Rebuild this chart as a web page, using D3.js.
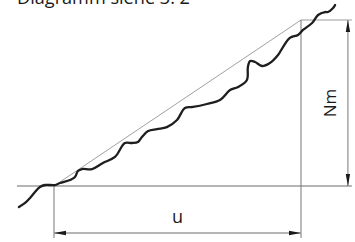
<!DOCTYPE html>
<html>
<head>
<meta charset="utf-8">
<script src="https://cdn.jsdelivr.net/npm/d3@7"></script>
<style>
html,body{margin:0;padding:0;background:#fff;}
svg{display:block;}
</style>
</head>
<body>
<svg id="c" width="355" height="242"></svg>
<script>
// Data (normalized units: u along horizontal, Nm along vertical)
const title = "Diagramm siehe 3. 2";
const labelU = "u";
const labelN = "Nm";
const curveU = [-0.142,-0.117,-0.097,-0.077,-0.057,-0.036,0.004,0.024,0.065,0.085,0.097,0.113,0.154,0.198,0.247,0.287,0.316,0.340,0.356,0.381,0.417,0.457,0.498,0.530,0.563,0.619,0.672,0.713,0.745,0.781,0.785,0.794,0.814,0.842,0.874,0.907,0.927,0.955,0.988,1.008,1.045,1.069,1.097,1.109,1.130,1.138];
const curveN = [-0.127,-0.102,-0.072,-0.036,-0.006,0.006,0.006,0.018,0.036,0.054,0.090,0.102,0.102,0.139,0.175,0.259,0.259,0.265,0.295,0.331,0.343,0.355,0.398,0.470,0.476,0.494,0.518,0.578,0.596,0.639,0.717,0.753,0.747,0.723,0.741,0.789,0.837,0.892,0.910,0.940,0.982,1.030,1.048,1.048,1.072,1.090];
const uExtent = [0, 1];   // u dimension
const nExtent = [0, 1];   // Nm dimension

const svg = d3.select("#c");
const x = d3.scaleLinear().domain([0,1]).range([54,301]);
const y = d3.scaleLinear().domain([0,1]).range([186,20]);

const gray = "#9c9c9c";
const line = d3.line().x(d=>x(d[0])).y(d=>y(d[1]));

// markers
const defs = svg.append("defs");
defs.append("marker").attr("id","ah").attr("viewBox","0 0 12 6")
  .attr("refX",12).attr("refY",3).attr("markerWidth",12).attr("markerHeight",6)
  .attr("markerUnits","userSpaceOnUse").attr("orient","auto-start-reverse")
  .append("path").attr("d","M0,0.8 L12,3 L0,5.2 Z").attr("fill","#1a1a1a");

// baseline
svg.append("path").attr("d",line([[-0.15,0],[1.206,0]])).attr("stroke",gray).attr("stroke-width",1.5).attr("fill","none");
// top line
svg.append("path").attr("d",line([[1,1],[1.206,1]])).attr("stroke",gray).attr("stroke-width",1.2).attr("fill","none");
// vertical extension lines
svg.append("path").attr("d",line([[0,0],[0,-0.313]])).attr("stroke","#777").attr("stroke-width",1).attr("fill","none");
svg.append("path").attr("d",line([[1,1],[1,-0.313]])).attr("stroke","#777").attr("stroke-width",1).attr("fill","none");
// diagonal
svg.append("path").attr("d",line([[uExtent[0],nExtent[0]],[uExtent[1],nExtent[1]]])).attr("stroke","#777").attr("stroke-width",0.7).attr("fill","none");

// u dimension
svg.append("path").attr("d",line([[uExtent[0],-0.283],[uExtent[1],-0.283]]))
  .attr("stroke",gray).attr("stroke-width",1.5).attr("fill","none")
  .attr("marker-start","url(#ah)").attr("marker-end","url(#ah)");
// Nm dimension
svg.append("path").attr("d",line([[1.19,nExtent[0]],[1.19,nExtent[1]]]))
  .attr("stroke","#777").attr("stroke-width",1).attr("fill","none")
  .attr("marker-start","url(#ah)").attr("marker-end","url(#ah)");

// curve
const pts = curveU.map((u,i)=>[u,curveN[i]]);
svg.append("path").attr("d",d3.line().x(d=>x(d[0])).y(d=>y(d[1])).curve(d3.curveCatmullRom.alpha(0.5))(pts))
  .attr("stroke","#1e1e1e").attr("stroke-width",2.3).attr("fill","none")
  .attr("stroke-linejoin","round").attr("stroke-linecap","round");

// labels
svg.append("text").attr("x",x(0.5)).attr("y",y(-0.22)).attr("text-anchor","middle")
  .attr("font-family","Open Sans, sans-serif").attr("font-size",18).attr("fill","#1a1a1a").text(labelU);
svg.append("text").attr("transform",`translate(${x(1.143)},${y(0.5)}) rotate(-90)`).attr("text-anchor","middle")
  .attr("font-family","Open Sans, sans-serif").attr("font-size",17).attr("fill","#1a1a1a").text(labelN);
svg.append("text").attr("x",17).attr("y",4).attr("font-family","Open Sans, sans-serif").attr("font-size",18)
  .attr("textLength",173).attr("lengthAdjust","spacingAndGlyphs").attr("fill","#1a1a1a").text(title);
</script>
</body>
</html>
